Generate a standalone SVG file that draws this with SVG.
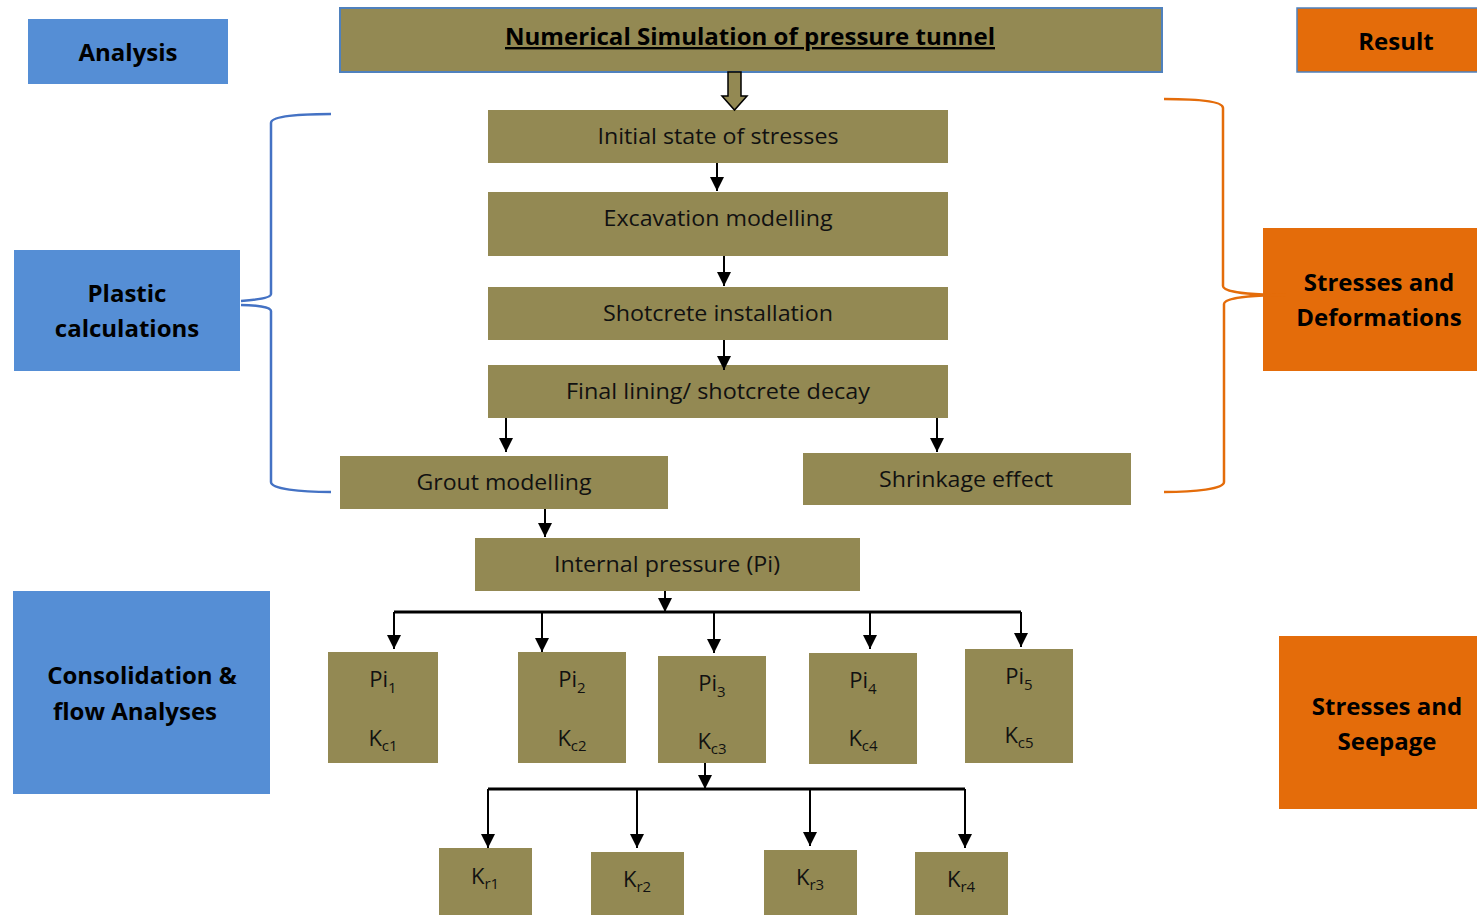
<svg xmlns="http://www.w3.org/2000/svg" width="1477" height="916" viewBox="0 0 1477 916">
<defs>
<style>
.ol{fill:#938953}
.bl{fill:#558ED5}
.or{fill:#E46C0A}
.t{font-family:"Open Sans","Liberation Sans",sans-serif;font-size:21px;fill:#111;text-anchor:middle}
.p{font-size:22px}
.b{font-family:"Open Sans","Liberation Sans",sans-serif;font-size:24px;font-weight:bold;fill:#000;text-anchor:middle}
.c{stroke:#000;stroke-width:2;fill:none}
.bar{stroke:#000;stroke-width:3;fill:none}
.s{font-size:15px}
</style>
<marker id="ah" viewBox="0 0 10 10" refX="10" refY="5" markerWidth="14" markerHeight="14" markerUnits="userSpaceOnUse" orient="auto">
<path d="M0,0 L10,5 L0,10 z" fill="#000"/>
</marker>
</defs>
<rect width="1477" height="916" fill="#fff"/>

<g id="analysis"><rect class="bl" x="28" y="19" width="200" height="65"/><text class="b" x="128" y="61">Analysis</text></g>
<g id="title"><rect class="ol" x="340" y="8" width="822" height="64" stroke="#4F81BD" stroke-width="2"/><text class="b" x="750" y="45" text-decoration="underline" textLength="490" lengthAdjust="spacingAndGlyphs">Numerical Simulation of pressure tunnel</text></g>
<g id="result"><rect class="or" x="1297" y="8" width="182" height="64" stroke="#4F81BD" stroke-width="1.5"/><text class="b" x="1396" y="50">Result</text></g>

<g id="initial"><rect class="ol" x="488" y="110" width="460" height="53"/><text class="t" x="718" y="144" textLength="241" lengthAdjust="spacingAndGlyphs">Initial state of stresses</text></g>
<g id="excavation"><rect class="ol" x="488" y="192" width="460" height="64"/><text class="t" x="718" y="226" textLength="229" lengthAdjust="spacingAndGlyphs">Excavation modelling</text></g>
<g id="shotcrete"><rect class="ol" x="488" y="287" width="460" height="53"/><text class="t" x="718" y="321" textLength="230" lengthAdjust="spacingAndGlyphs">Shotcrete installation</text></g>
<g id="final"><rect class="ol" x="488" y="365" width="460" height="53"/><text class="t" x="718" y="399" textLength="304" lengthAdjust="spacingAndGlyphs">Final lining/ shotcrete decay</text></g>
<g id="grout"><rect class="ol" x="340" y="456" width="328" height="53"/><text class="t" x="504" y="490" textLength="175" lengthAdjust="spacingAndGlyphs">Grout modelling</text></g>
<g id="shrinkage"><rect class="ol" x="803" y="453" width="328" height="52"/><text class="t" x="966" y="487" textLength="174" lengthAdjust="spacingAndGlyphs">Shrinkage effect</text></g>
<g id="internal"><rect class="ol" x="475" y="538" width="385" height="53"/><text class="t" x="667" y="572" textLength="226" lengthAdjust="spacingAndGlyphs">Internal pressure (Pi)</text></g>

<g id="pi1"><rect class="ol" x="328" y="652" width="110" height="111"/><text class="t p" x="383" y="687">Pi<tspan class="s" dy="6">1</tspan></text><text class="t p" x="383" y="746">K<tspan class="s" dy="5">c1</tspan></text></g>
<g id="pi2"><rect class="ol" x="518" y="652" width="108" height="111"/><text class="t p" x="572" y="687">Pi<tspan class="s" dy="6">2</tspan></text><text class="t p" x="572" y="746">K<tspan class="s" dy="5">c2</tspan></text></g>
<g id="pi3"><rect class="ol" x="658" y="656" width="108" height="107"/><text class="t p" x="712" y="691">Pi<tspan class="s" dy="6">3</tspan></text><text class="t p" x="712" y="749">K<tspan class="s" dy="5">c3</tspan></text></g>
<g id="pi4"><rect class="ol" x="809" y="653" width="108" height="111"/><text class="t p" x="863" y="688">Pi<tspan class="s" dy="6">4</tspan></text><text class="t p" x="863" y="746">K<tspan class="s" dy="5">c4</tspan></text></g>
<g id="pi5"><rect class="ol" x="965" y="649" width="108" height="114"/><text class="t p" x="1019" y="684">Pi<tspan class="s" dy="6">5</tspan></text><text class="t p" x="1019" y="743">K<tspan class="s" dy="5">c5</tspan></text></g>

<g id="kr1"><rect class="ol" x="439" y="848" width="93" height="67"/><text class="t p" x="485" y="884">K<tspan class="s" dy="5">r1</tspan></text></g>
<g id="kr2"><rect class="ol" x="591" y="852" width="93" height="63"/><text class="t p" x="637" y="887">K<tspan class="s" dy="5">r2</tspan></text></g>
<g id="kr3"><rect class="ol" x="764" y="850" width="93" height="65"/><text class="t p" x="810" y="885">K<tspan class="s" dy="5">r3</tspan></text></g>
<g id="kr4"><rect class="ol" x="915" y="852" width="93" height="63"/><text class="t p" x="961" y="887">K<tspan class="s" dy="5">r4</tspan></text></g>

<g id="plastic"><rect class="bl" x="14" y="250" width="226" height="121"/><text class="b" x="127" y="302">Plastic</text><text class="b" x="127" y="337">calculations</text></g>
<g id="stressdef"><rect class="or" x="1263" y="228" width="214" height="143"/><text class="b" x="1379" y="291">Stresses and</text><text class="b" x="1379" y="326">Deformations</text></g>
<g id="consol"><rect class="bl" x="13" y="591" width="257" height="203"/><text class="b" x="142" y="684">Consolidation &amp;</text><text class="b" x="135" y="720">flow Analyses</text></g>
<g id="seepage"><rect class="or" x="1279" y="636" width="198" height="173"/><text class="b" x="1387" y="715">Stresses and</text><text class="b" x="1387" y="750">Seepage</text></g>

<g id="connectors">
<path d="M728,72 H741 V96 H747 L734.5,110 L722,96 H728 Z" fill="#938953" stroke="#000" stroke-width="1.5"/>
<line class="c" x1="717" y1="163" x2="717" y2="191" marker-end="url(#ah)"/>
<line class="c" x1="724" y1="256" x2="724" y2="286" marker-end="url(#ah)"/>
<line class="c" x1="724" y1="340" x2="724" y2="370" marker-end="url(#ah)"/>
<line class="c" x1="506" y1="418" x2="506" y2="452" marker-end="url(#ah)"/>
<line class="c" x1="937" y1="418" x2="937" y2="452" marker-end="url(#ah)"/>
<line class="c" x1="545" y1="509" x2="545" y2="537" marker-end="url(#ah)"/>
<line class="c" x1="665" y1="591" x2="665" y2="612" marker-end="url(#ah)"/>
<path class="bar" d="M394,612 H1021"/>
<line class="c" x1="394" y1="612" x2="394" y2="649" marker-end="url(#ah)"/>
<line class="c" x1="542" y1="612" x2="542" y2="652" marker-end="url(#ah)"/>
<line class="c" x1="714" y1="612" x2="714" y2="653" marker-end="url(#ah)"/>
<line class="c" x1="870" y1="612" x2="870" y2="649" marker-end="url(#ah)"/>
<line class="c" x1="1021" y1="612" x2="1021" y2="647" marker-end="url(#ah)"/>
<line class="c" x1="705" y1="763" x2="705" y2="789" marker-end="url(#ah)"/>
<path class="bar" d="M488,789 H965"/>
<line class="c" x1="488" y1="789" x2="488" y2="848" marker-end="url(#ah)"/>
<line class="c" x1="637" y1="789" x2="637" y2="848" marker-end="url(#ah)"/>
<line class="c" x1="810" y1="789" x2="810" y2="846" marker-end="url(#ah)"/>
<line class="c" x1="965" y1="789" x2="965" y2="848" marker-end="url(#ah)"/>
<path d="M331,114 C300,114 271,116 271,123 V294 C271,298 255,300 241,301" fill="none" stroke="#4472C4" stroke-width="2.5"/>
<path d="M241,305 C255,305 271,307 271,311 V482 C271,489 300,492 331,492" fill="none" stroke="#4472C4" stroke-width="2.5"/>
<path d="M1164,99 C1195,99 1223,101 1223,108 V286 C1223,292 1250,295 1286,295" fill="none" stroke="#E46C0A" stroke-width="2.5"/>
<path d="M1286,295 C1250,295 1224,298 1224,304 V482 C1224,489 1195,492 1164,492" fill="none" stroke="#E46C0A" stroke-width="2.5"/>
</g>
</svg>
